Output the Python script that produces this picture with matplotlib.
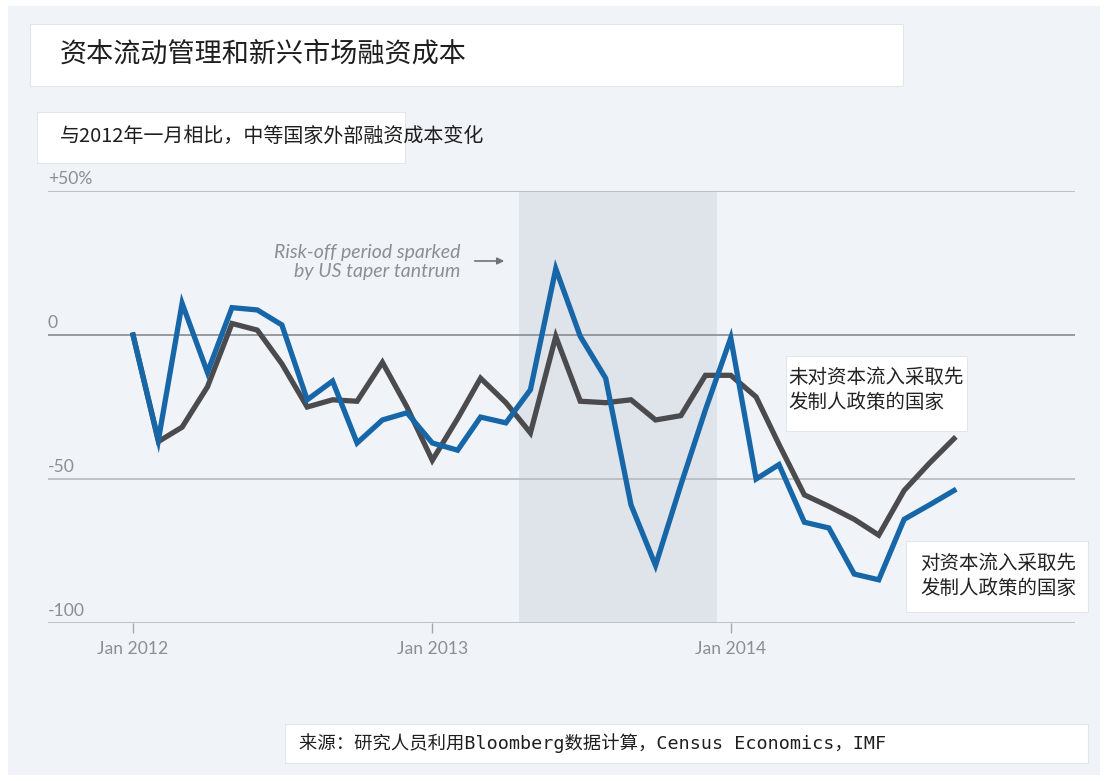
import numpy as np
import pandas as pd
import matplotlib
matplotlib.use("Agg")
import matplotlib.pyplot as plt
import matplotlib.dates as mdates
from matplotlib.patches import Rectangle
from matplotlib.transforms import blended_transform_factory, offset_copy

CJK = ["Noto Sans CJK SC", "DejaVu Sans"]

# ── data: change in external financing cost vs Jan 2012 (%) ──
months = pd.date_range("2012-01-01", periods=34, freq="MS")
with_cfm = [0, -36.5, 11, -13, 9.5, 8.7, 3.5, -22.5, -16, -37.5, -29.5, -27,
            -37.5, -40, -28.5, -30.5, -19, 23, -0.5, -15, -59, -80, -52, -26,
            -1, -50, -45, -65, -67, -83, -85, -64, -59, -54]
without_cfm = [0, -37, -32, -18, 4, 1.7, -10, -25, -22.5, -23, -9.5, -25,
               -43.5, -29, -15, -23.5, -34, -0.5, -23, -23.5, -22.5, -29.5, -28, -14,
               -14, -21.5, -38, -55.5, -59.5, -64, -69.5, -54, -44.5, -36]
y_levels = [50, 0, -50, -100]
y_labels = ["+50%", "0", "-50", "-100"]
tick_dates = pd.to_datetime(["2012-01-01", "2013-01-01", "2014-01-01"])
tick_labels = ["Jan 2012", "Jan 2013", "Jan 2014"]
taper_start, taper_end = pd.Timestamp("2013-04-17"), pd.Timestamp("2013-12-15")

title = "资本流动管理和新兴市场融资成本"
subtitle = "与2012年一月相比，中等国家外部融资成本变化"
label_without = "未对资本流入采取先\n发制人政策的国家"
label_with = "对资本流入采取先\n发制人政策的国家"
source = "来源：研究人员利用Bloomberg数据计算，Census Economics，IMF"
note = "Risk-off period sparked\nby US taper tantrum"

BG = "#f0f4f9"
BLUE = "#1666a8"
DARK = "#4b4b4d"
GREY_TXT = "#8b8e92"

W, H = 1105, 781
fig = plt.figure(figsize=(W / 100, H / 100), dpi=100)
fig.patch.set_facecolor("white")

# overlay in pixel units for panel, boxes and free text
bg = fig.add_axes([0, 0, 1, 1], zorder=0)
bg.set_xlim(0, W)
bg.set_ylim(H, 0)
bg.axis("off")
bg.add_patch(Rectangle((8, 6), 1092, 769, facecolor=BG, edgecolor="none"))

# ── chart ──
ax = fig.add_axes([48 / W, 1 - 623 / H, (1075 - 48) / W, (623 - 191) / H], zorder=1)
ax.patch.set_alpha(0)
for s in ax.spines.values():
    s.set_visible(False)
ax.set_ylim(-100, 50)
ax.set_xlim(pd.Timestamp("2011-09-19"), pd.Timestamp("2015-02-26"))

ax.axvspan(taper_start, taper_end, color="#dfe3ea", lw=0, zorder=0)
for lv in y_levels:
    ax.axhline(lv, color="#8f9398" if lv == 0 else "#b9bdc2", lw=1.3, zorder=1)

ax.plot(months, without_cfm, color=DARK, lw=3.8, solid_joinstyle="miter", zorder=3)
ax.plot(months, with_cfm, color=BLUE, lw=3.8, solid_joinstyle="miter", zorder=4)

ax.set_yticks([])
ax.set_xticks(tick_dates)
ax.set_xticklabels(tick_labels, family="Lato", fontsize=12.6, color=GREY_TXT)
ax.tick_params(axis="x", direction="out", length=7, width=1, color="#a4a8ad", pad=6)

lab_tr = offset_copy(blended_transform_factory(ax.transAxes, ax.transData),
                     fig=fig, y=3, units="points")
for lv, lb in zip(y_levels, y_labels):
    ax.text(0, lv, lb, transform=lab_tr, ha="left", va="bottom",
            family="Lato", fontsize=12.6, color=GREY_TXT)

# taper tantrum note with arrow
bg.text(460, 262, note, ha="right", va="center", family="Lato", style="italic",
        fontsize=14, color=GREY_TXT, linespacing=1.12)
bg.annotate("", xy=(507, 261), xytext=(472, 261),
            arrowprops=dict(arrowstyle="-|>", color="#6f7276", lw=1.2,
                            mutation_scale=10))

# ── boxes and texts ──
fg = fig.add_axes([0, 0, 1, 1], zorder=5)
fg.set_xlim(0, W)
fg.set_ylim(H, 0)
fg.axis("off")


def box(x0, y0, x1, y1):
    fg.add_patch(Rectangle((x0, y0), x1 - x0, y1 - y0, facecolor="white",
                           edgecolor="#e2e5e9", lw=0.8))


box(30, 24, 903, 86)
fg.text(60, 54, title, family=CJK, fontsize=19.5, color="#1e1e1e", va="center")

box(37, 112, 405, 163)
fg.text(60, 136, subtitle, family=CJK, fontsize=14.4, color="#1e1e1e", va="center")

box(786, 356, 967, 431)
fg.text(788, 390, label_without, family=CJK, fontsize=14, color="#222222",
        va="center", linespacing=1.25)

box(906, 541, 1088, 612)
fg.text(920, 576, label_with, family=CJK, fontsize=14, color="#222222",
        va="center", linespacing=1.25)

box(285, 724, 1088, 763)
fg.text(299, 743, source, family=["DejaVu Sans Mono", "Noto Sans CJK SC"],
        fontsize=13.2, color="#1e1e1e", va="center")

fig.savefig("out.png", dpi=100, facecolor=fig.get_facecolor())
